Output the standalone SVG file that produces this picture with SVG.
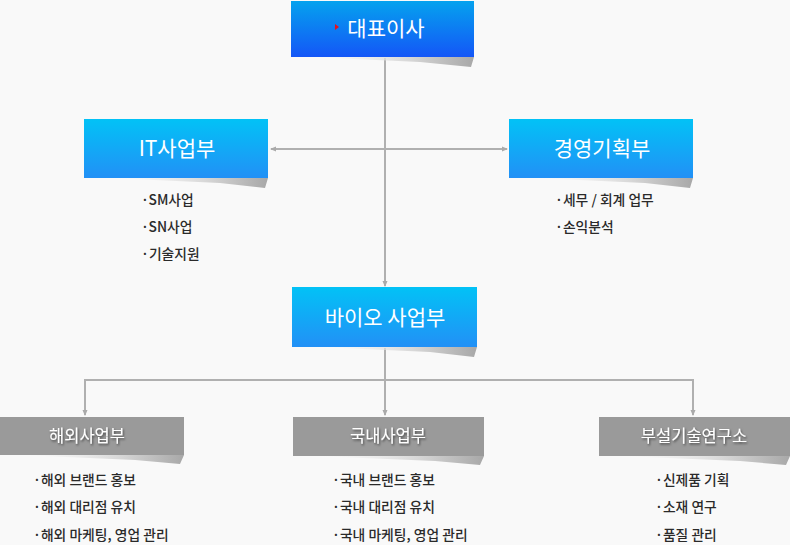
<svg xmlns="http://www.w3.org/2000/svg" width="790" height="545" viewBox="0 0 790 545">
<defs>
<linearGradient id="gTop" x1="0" y1="0" x2="0" y2="1"><stop offset="0" stop-color="#05A2EE"/><stop offset="1" stop-color="#1456F7"/></linearGradient>
<linearGradient id="gBlue" x1="0" y1="0" x2="0" y2="1"><stop offset="0" stop-color="#02C2F6"/><stop offset="1" stop-color="#2290F6"/></linearGradient>
<linearGradient id="gShadow" x1="0" y1="0" x2="1" y2="0"><stop offset="0" stop-color="#f2f2f2" stop-opacity="0"/><stop offset="0.6" stop-color="#d8d8d8"/><stop offset="1" stop-color="#a8a8a8"/></linearGradient>
<filter id="ts" x="-10%" y="-30%" width="120%" height="160%"><feDropShadow dx="1" dy="1.5" stdDeviation="1" flood-color="#000" flood-opacity="0.55"/></filter>
<marker id="ah" viewBox="0 0 6 6" refX="5" refY="3" markerWidth="6" markerHeight="6" markerUnits="userSpaceOnUse" orient="auto-start-reverse"><path d="M0,0.5 L6,3 L0,5.5 z" fill="#aaaaaa"/></marker>
<style>
.line{stroke:#b0b0b0;stroke-width:2;fill:none}
.bt{font-family:"Noto Sans CJK KR","Noto Sans",sans-serif;font-size:21px;fill:#ffffff;text-anchor:middle}
.gt{font-family:"Noto Sans CJK KR","Noto Sans",sans-serif;font-size:16.5px;fill:#ffffff;text-anchor:middle}
.li{font-family:"Noto Sans CJK KR","Noto Sans",sans-serif;font-size:13.8px;font-weight:500;fill:#2a2a2a}
.sh{fill:url(#gShadow)}
.gray{fill:#9a9a9a}
</style>
</defs>
<rect width="790" height="545" fill="#f9f9f9"/>

<g id="connectors">
<line class="line" x1="385" y1="58" x2="385" y2="286" marker-end="url(#ah)"/>
<line class="line" x1="271" y1="149" x2="507" y2="149" marker-start="url(#ah)" marker-end="url(#ah)"/>
<line class="line" x1="385" y1="348" x2="385" y2="380"/>
<polyline class="line" points="85,415 85,380 693,380 693,415" marker-start="url(#ah)" marker-end="url(#ah)"/>
<line class="line" x1="385" y1="380" x2="385" y2="415" marker-end="url(#ah)"/>
</g>

<g id="ceo">
<polygon class="sh" points="310,57 474,57 471,67 420,62"/>
<rect x="291" y="1" width="183" height="56" fill="url(#gTop)"/>
<polygon points="335,24 339,27 335,30" fill="#e8101a"/>
<text class="bt" x="386" y="36">대표이사</text>
</g>

<g id="it">
<polygon class="sh" points="110,178 268,178 265,188 220,183"/>
<rect x="84" y="119" width="184" height="59" fill="url(#gBlue)"/>
<text class="bt" x="177" y="156">IT사업부</text>
<text class="li" x="141" y="205">·SM사업</text>
<text class="li" x="141" y="232">·SN사업</text>
<text class="li" x="141" y="259">·기술지원</text>
</g>

<g id="mgmt">
<polygon class="sh" points="535,178 693,178 690,188 645,183"/>
<rect x="509" y="119" width="184" height="59" fill="url(#gBlue)"/>
<text class="bt" x="602" y="156">경영기획부</text>
<text class="li" x="555" y="205">·세무 / 회계 업무</text>
<text class="li" x="555" y="232">·손익분석</text>
</g>

<g id="bio">
<polygon class="sh" points="318,347 477,347 474,357 430,352"/>
<rect x="292" y="287" width="185" height="60" fill="url(#gBlue)"/>
<text class="bt" x="385" y="325">바이오 사업부</text>
</g>

<g id="overseas">
<polygon class="sh" points="20,455 184,455 180,464 135,460"/>
<rect class="gray" x="0" y="417" width="184" height="38"/>
<text class="gt" x="87" y="442" filter="url(#ts)">해외사업부</text>
<text class="li" x="33" y="485">·해외 브랜드 홍보</text>
<text class="li" x="33" y="512">·해외 대리점 유치</text>
<text class="li" x="33" y="540">·해외 마케팅, 영업 관리</text>
</g>

<g id="domestic">
<polygon class="sh" points="315,456 484,456 480,465 435,461"/>
<rect class="gray" x="293" y="417" width="191" height="39"/>
<text class="gt" x="388" y="442" filter="url(#ts)">국내사업부</text>
<text class="li" x="332" y="485">·국내 브랜드 홍보</text>
<text class="li" x="332" y="512">·국내 대리점 유치</text>
<text class="li" x="332" y="540">·국내 마케팅, 영업 관리</text>
</g>

<g id="lab">
<polygon class="sh" points="620,456 790,456 786,465 740,461"/>
<rect class="gray" x="599" y="417" width="191" height="39"/>
<text class="gt" x="694" y="442" filter="url(#ts)">부설기술연구소</text>
<text class="li" x="655" y="485">·신제품 기획</text>
<text class="li" x="655" y="512">·소재 연구</text>
<text class="li" x="655" y="540">·품질 관리</text>
</g>
</svg>
